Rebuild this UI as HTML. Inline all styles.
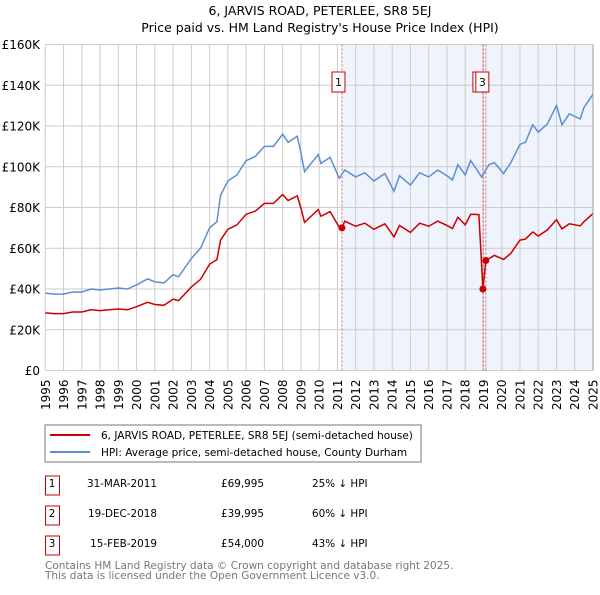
<!DOCTYPE html>
<html><head><meta charset="utf-8"><style>
body{margin:0;background:#fff;font-family:"Liberation Sans","DejaVu Sans",sans-serif;}
svg text{font-family:"DejaVu Sans","Liberation Sans",sans-serif;}
</style></head><body>
<svg id="c" width="600" height="590" xmlns="http://www.w3.org/2000/svg">
<text x="320" y="15" text-anchor="middle" font-size="12.5">6, JARVIS ROAD, PETERLEE, SR8 5EJ</text>
<text x="320" y="32" text-anchor="middle" font-size="12.5">Price paid vs. HM Land Registry's House Price Index (HPI)</text>
<g id="plot"></g>
<rect x="45" y="425" width="376" height="37" fill="#fff" stroke="#777"/>
<line x1="50" y1="435" x2="90" y2="435" stroke="#cc0000" stroke-width="2"/>
<text x="101" y="439" font-size="10.5">6, JARVIS ROAD, PETERLEE, SR8 5EJ (semi-detached house)</text>
<line x1="50" y1="452" x2="90" y2="452" stroke="#5b8fd0" stroke-width="2"/>
<text x="101" y="456" font-size="10.5">HPI: Average price, semi-detached house, County Durham</text>
<g font-size="10.4">
<rect x="45.5" y="476" width="14" height="19" fill="#fff" stroke="#cc0000"/><text x="52" y="487" text-anchor="middle">1</text>
<text x="157" y="487" text-anchor="end">31-MAR-2011</text><text x="264" y="487" text-anchor="end">£69,995</text><text x="312" y="487">25% ↓ HPI</text>
<rect x="45.5" y="506" width="14" height="19" fill="#fff" stroke="#cc0000"/><text x="52" y="517" text-anchor="middle">2</text>
<text x="157" y="517" text-anchor="end">19-DEC-2018</text><text x="264" y="517" text-anchor="end">£39,995</text><text x="312" y="517">60% ↓ HPI</text>
<rect x="45.5" y="536" width="14" height="19" fill="#fff" stroke="#cc0000"/><text x="52" y="547" text-anchor="middle">3</text>
<text x="157" y="547" text-anchor="end">15-FEB-2019</text><text x="264" y="547" text-anchor="end">£54,000</text><text x="312" y="547">43% ↓ HPI</text>
</g>
<text x="45" y="569" font-size="10.5" fill="#777">Contains HM Land Registry data © Crown copyright and database right 2025.</text>
<text x="45" y="579" font-size="10.5" fill="#777">This data is licensed under the Open Government Licence v3.0.</text>
</svg>
<script>
const hpiDates=[1995,1995.5,1996,1996.5,1997,1997.5,1998,1998.5,1999,1999.5,2000,2000.6,2001,2001.5,2002,2002.3,2003,2003.5,2004,2004.4,2004.6,2005,2005.5,2006,2006.5,2007,2007.5,2008,2008.3,2008.8,2009,2009.2,2009.95,2010.1,2010.6,2011.1,2011.4,2012,2012.5,2013,2013.6,2014.1,2014.4,2015,2015.5,2016,2016.5,2017,2017.3,2017.6,2018,2018.3,2018.9,2019.3,2019.6,2020.1,2020.5,2021,2021.3,2021.7,2022,2022.5,2023,2023.3,2023.7,2024.3,2024.5,2025];
const hpiValues=[38,37.5,37.5,38.5,38.5,40,39.5,40,40.5,40,42,45,43.5,43,47,46,55,60,70,73,86,93,96,103,105,110,110,116,112,115,107,97.6,106,101.6,104.6,94.3,98.4,95,97,93,96.7,88,95.6,91,97,95,98.4,95.6,93.5,101,96,103,95,101,102,96.7,102,111,112,120.6,117,121,130,120.6,126,123.5,129,135.6];
const priceDates=[1995,1995.5,1996,1996.5,1997,1997.5,1998,1998.5,1999,1999.5,2000,2000.6,2001,2001.5,2002,2002.3,2003,2003.5,2004,2004.4,2004.6,2005,2005.5,2006,2006.5,2007,2007.5,2008,2008.3,2008.8,2009,2009.2,2009.95,2010.1,2010.6,2011.1,2011.25,2011.4,2012,2012.5,2013,2013.6,2014.1,2014.4,2015,2015.5,2016,2016.5,2017,2017.3,2017.6,2018,2018.3,2018.75,2018.97,2019.13,2019.6,2020.1,2020.5,2021,2021.3,2021.7,2022,2022.5,2023,2023.3,2023.7,2024.3,2024.5,2025];
const priceValues=[28.3,27.9,27.9,28.7,28.7,29.8,29.4,29.8,30.2,29.8,31.3,33.5,32.4,32,35,34.3,41,44.7,52.2,54.4,64,69.3,71.5,76.7,78.2,82,82,86.4,83.4,85.7,79.7,72.7,79,75.7,78,70.3,70,73.3,70.8,72.3,69.3,72,65.6,71.2,67.8,72.3,70.8,73.3,71.2,69.7,75.2,71.5,76.7,76.5,40,54,56.5,54.5,57.5,64,64.5,68,66,69,74,69.5,72,71,73,77];
const saleDates=[2011.25,2018.97,2019.13];
const saleValues=[69.995,39.995,54];
const saleLabels=["1","2","3"];
const yTicks=[0,20,40,60,80,100,120,140,160];
const yTickLabels=["£0","£20K","£40K","£60K","£80K","£100K","£120K","£140K","£160K"];
const xYears=[1995,1996,1997,1998,1999,2000,2001,2002,2003,2004,2005,2006,2007,2008,2009,2010,2011,2012,2013,2014,2015,2016,2017,2018,2019,2020,2021,2022,2023,2024,2025];

const NS="http://www.w3.org/2000/svg";
const X0=45.3,X1=593,Y0=370.5,Y1=44.5;
const xs=d=>X0+(d-1995)/30*(X1-X0);
const ys=v=>Y0-v/160*(Y0-Y1);
const g=document.getElementById('plot');
function mk(t,a){const e=document.createElementNS(NS,t);for(const k in a)e.setAttribute(k,a[k]);g.appendChild(e);return e;}
let bg=mk('rect',{x:xs(saleDates[0]),y:Y1,width:X1-xs(saleDates[0]),height:Y0-Y1,fill:'#eef3fc'});


yTicks.forEach((v,i)=>{
 const l=mk('line',{x1:X0,x2:X1,y1:ys(v),y2:ys(v),stroke:'#ccc'});
 
 
 const t=mk('text',{x:40,y:ys(v)+4.5,'text-anchor':'end','font-size':'12'});
 t.textContent=yTickLabels[i];
 
 
});
xYears.forEach(yr=>{
 const l=mk('line',{x1:xs(yr),x2:xs(yr),y1:Y1,y2:Y0,stroke:'#ccc'});
 
 
 const t=mk('text',{transform:`translate(${xs(yr)+4.5},410) rotate(-90)`,'font-size':'12'});
 t.textContent=yr;
 
 
});
saleDates.forEach(d=>{
 const l=mk('line',{x1:xs(d),x2:xs(d),y1:Y1,y2:Y0,stroke:'#e06060','stroke-dasharray':'2,2','stroke-width':'1'});
 
 
});
const hp=mk('polyline',{points:hpiDates.map((d,i)=>xs(d)+','+ys(hpiValues[i])).join(' '),fill:'none',stroke:'#5b8fd0','stroke-width':'1.5'});


const pp=mk('polyline',{points:priceDates.map((d,i)=>xs(d)+','+ys(priceValues[i])).join(' '),fill:'none',stroke:'#cc0000','stroke-width':'1.5'});


saleDates.forEach((d,i)=>{
 const c=mk('circle',{cx:xs(d),cy:ys(saleValues[i]),r:3.5,fill:'#cc0000'});
 
 
});
saleDates.forEach((d,i)=>{
 const bx=xs(d)-10;
 const r=mk('rect',{x:bx,y:72,width:13,height:20,fill:'#fff',stroke:'#cc0000'});
 
 
 const t=mk('text',{x:bx+6.5,y:86,'text-anchor':'middle','font-size':'11'});
 t.textContent=saleLabels[i];
 
 
});
const ax=mk('line',{x1:X1,x2:X1,y1:Y1,y2:Y0,stroke:'#999'});


</script>
</body></html>
